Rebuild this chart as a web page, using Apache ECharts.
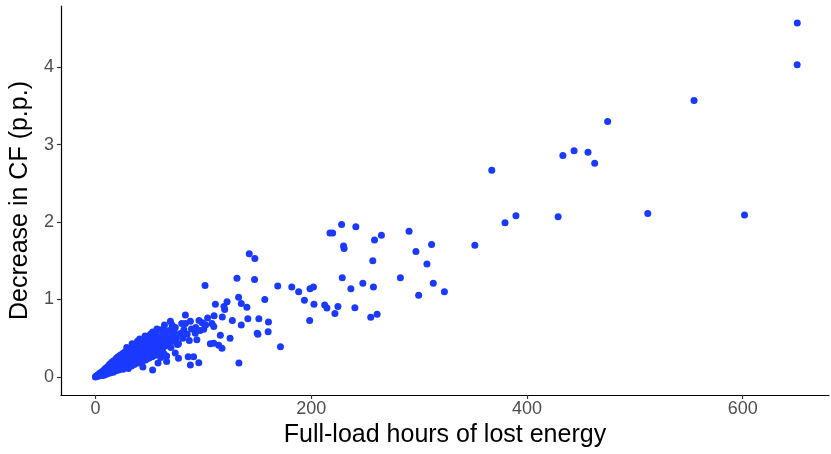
<!DOCTYPE html>
<html>
<head>
<meta charset="utf-8">
<script src="https://cdn.jsdelivr.net/npm/echarts@6/dist/echarts.min.js"></script>
<style>
  html, body { margin: 0; padding: 0; background: #fff; }
  #chart { width: 831px; height: 454px; }
</style>
</head>
<body>
<div id="chart"></div>
<script>
// tick labels
const xTicks = [0, 200, 400, 600];
const yTicks = [0, 1, 2, 3, 4];

// [full-load hours lost, decrease in CF (p.p.)]
const denseCluster = [
  [0, 0], [0.5, 0.01], [1, 0.005], [1.5, 0.02], [2, 0.01], [2.5, 0.03], [3, 0.02], [3.5, 0.04], [4, 0.015], [4.5, 0.05],
  [5, 0.03], [5.5, 0.06], [6, 0.04], [6.5, 0.07], [7, 0.02], [7.5, 0.08], [8, 0.05], [8.5, 0.1], [9, 0.03], [9.5, 0.09],
  [10, 0.06], [10, 0.12], [11, 0.04], [11.5, 0.1], [12, 0.14], [12.5, 0.07], [13, 0.16], [13.5, 0.05], [14, 0.11], [14.5, 0.18],
  [15, 0.08], [15.5, 0.13], [16, 0.2], [16.5, 0.06], [17, 0.15], [17.5, 0.1], [18, 0.22], [18.5, 0.17], [19, 0.08], [19.5, 0.24],
  [20, 0.12], [20.5, 0.19], [21, 0.26], [21.5, 0.09], [22, 0.15], [22.5, 0.22], [23, 0.28], [23.5, 0.12], [24, 0.18], [24.5, 0.25],
  [25, 0.3], [25.5, 0.1], [26, 0.21], [26.5, 0.16], [27, 0.32], [27.5, 0.27], [28, 0.13], [28.5, 0.23], [29, 0.33], [29.5, 0.19],
  [30, 0.29], [30.5, 0.11], [31, 0.35], [31.5, 0.24], [32, 0.17], [32.5, 0.31], [33, 0.37], [33.5, 0.14], [34, 0.27], [34.5, 0.21],
  [35, 0.39], [35.5, 0.33], [36, 0.16], [36.5, 0.25], [37, 0.42], [37.5, 0.3], [38, 0.2], [38.5, 0.36], [39, 0.46], [39.5, 0.27],
  [40, 0.18], [40.5, 0.4], [41, 0.33], [41.5, 0.23], [42, 0.45], [42.5, 0.29], [43, 0.38], [43.5, 0.2], [44, 0.47], [44.5, 0.34],
  [45, 0.26], [45.5, 0.42], [46, 0.31], [46.5, 0.22], [47, 0.48], [47.5, 0.37], [48, 0.28], [48.5, 0.44], [49, 0.52], [49.5, 0.24],
  [50, 0.35], [50.5, 0.41], [51, 0.55], [51.5, 0.3], [52, 0.46], [52.5, 0.26], [53, 0.09], [53.5, 0.38], [54, 0.5], [54.5, 0.33],
  [55, 0.43], [55.5, 0.28], [56, 0.54], [56.5, 0.36], [57, 0.47], [58, 0.18], [58.5, 0.31], [59, 0.61], [59.5, 0.4], [60, 0.52],
  [60.5, 0.25], [61, 0.45], [62, 0.35], [62.5, 0.57], [63, 0.62], [63.5, 0.3], [64, 0.48], [65, 0.4], [65.5, 0.55], [66, 0.27],
  [67, 0.5], [68, 0.43], [68.5, 0.6], [69.5, 0.72], [70, 0.38], [71, 0.67], [71.5, 0.53], [72, 0.46], [73, 0.58], [74, 0.31],
  [75, 0.5], [76, 0.42], [77, 0.24], [77, 0.43], [78.8, 0.56], [80, 0.69], [81, 0.5], [82, 0.61], [83.4, 0.8], [83.4, 0.69],
  [85, 0.55], [86, 0.26], [87, 0.47], [88, 0.155], [88, 0.72], [89, 0.62], [91, 0.26], [92.6, 0.565], [93, 0.64], [94, 0.48],
  [95.8, 0.185], [96, 0.73], [97, 0.6], [99, 0.7], [102, 0.67], [104, 0.76], [106.5, 0.43], [110, 0.79],
  [29, 0.38], [34, 0.43], [41, 0.49], [46, 0.53], [53, 0.58], [57, 0.62], [64, 0.67], [74, 0.64], [66, 0.2], [44, 0.13]
];

const midRange = [
  [101.6, 1.18], [111.2, 0.94], [122, 0.97], [119.2, 0.91], [119.8, 0.87], [117.6, 0.775], [126.9, 0.73], [132.7, 1.03],
  [135.2, 0.95], [140.4, 0.9], [131.2, 1.275], [142.6, 1.59], [147.8, 1.53], [147.5, 1.26], [141.3, 0.75], [151.5, 0.75],
  [160.4, 0.71], [135.2, 0.67], [150, 0.565], [150.6, 0.55], [160.1, 0.585], [108, 0.69], [109.7, 0.65], [101.9, 0.67],
  [100.4, 0.615], [115.8, 0.54], [124.8, 0.5], [109.7, 0.435], [114.3, 0.41], [117.3, 0.37], [171.5, 0.39], [133, 0.18],
  [157, 1.0], [169, 1.176], [182, 1.16], [188.4, 1.1], [198.9, 1.14], [202.1, 1.16], [193.7, 0.99], [202.6, 0.94],
  [212.5, 0.93], [214.6, 0.89], [224.8, 0.91], [222, 0.82], [198.6, 0.73], [217.4, 1.86], [219.9, 1.86], [228.2, 1.97],
  [241.4, 1.94], [230, 1.69], [230.5, 1.66], [228.8, 1.28], [236.8, 1.14], [247.9, 1.21], [257.7, 1.16], [240.5, 0.895],
  [255.2, 0.77], [261.1, 0.81], [257.1, 1.5], [258.7, 1.77], [265.1, 1.83], [282.7, 1.28], [290.7, 1.88], [297.1, 1.62],
  [299.6, 1.055], [307.3, 1.46], [311.6, 1.71], [313.2, 1.21], [323.5, 1.1]
];

const upperTail = [
  [351.7, 1.7], [367.4, 2.67], [379.7, 1.99], [389.8, 2.08], [428.9, 2.07], [433.3, 2.86], [443.7, 2.92], [456.6, 2.9],
  [462.8, 2.76], [474.8, 3.3], [512, 2.11], [554.9, 3.57], [601.7, 2.09], [650.5, 4.03], [650.6, 4.57]
];

const FONT = '"Liberation Sans", Arial, sans-serif';
const DOT = '#1a3aff';

const chart = echarts.init(document.getElementById('chart'));
chart.setOption({
  animation: false,
  backgroundColor: '#fff',
  grid: { left: 59, right: 2, top: 6, bottom: 59, containLabel: false },
  xAxis: {
    type: 'value',
    min: -32,
    max: 680,
    name: 'Full-load hours of lost energy',
    nameLocation: 'middle',
    nameGap: 27,
    nameTextStyle: { fontFamily: FONT, fontSize: 25, color: '#000' },
    axisLine: { show: true, onZero: false, lineStyle: { color: '#000', width: 1.2 } },
    axisTick: { show: true, length: 4, customValues: xTicks, lineStyle: { color: '#333', width: 1.2 } },
    axisLabel: { customValues: xTicks, fontFamily: FONT, fontSize: 18, color: '#4d4d4d', margin: 5 },
    splitLine: { show: false }
  },
  yAxis: {
    type: 'value',
    min: -0.233,
    max: 4.79,
    name: 'Decrease in CF (p.p.)',
    nameLocation: 'middle',
    nameGap: 24,
    nameTextStyle: { fontFamily: FONT, fontSize: 25, color: '#000' },
    axisLine: { show: true, onZero: false, lineStyle: { color: '#000', width: 1.2 } },
    axisTick: { show: true, length: 4, customValues: yTicks, lineStyle: { color: '#333', width: 1.2 } },
    axisLabel: { customValues: yTicks, fontFamily: FONT, fontSize: 18, color: '#4d4d4d', margin: 7 },
    splitLine: { show: false }
  },
  series: [
    { type: 'scatter', data: denseCluster, symbolSize: 7, itemStyle: { color: DOT, opacity: 1 } },
    { type: 'scatter', data: midRange, symbolSize: 7, itemStyle: { color: DOT, opacity: 1 } },
    { type: 'scatter', data: upperTail, symbolSize: 7, itemStyle: { color: DOT, opacity: 1 } }
  ]
});
</script>
</body>
</html>
